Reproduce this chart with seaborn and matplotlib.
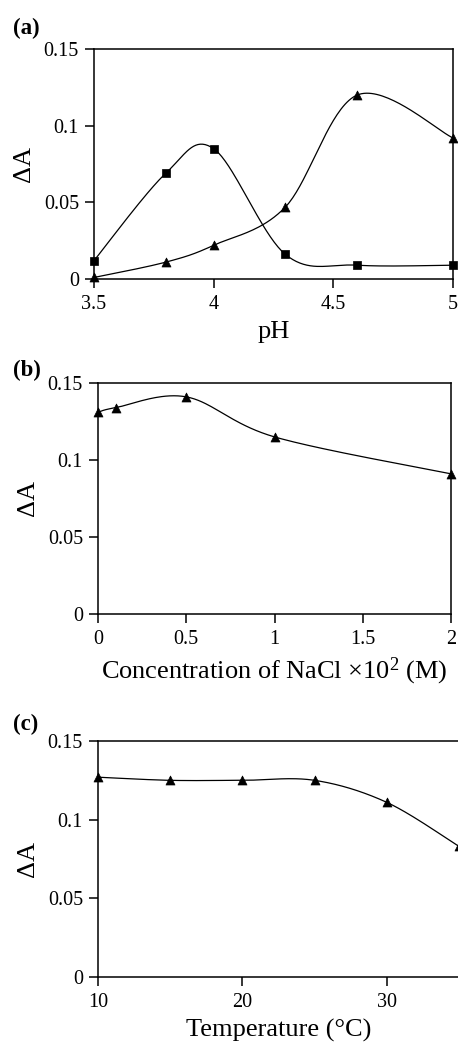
import numpy as np
import pandas as pd
import seaborn as sns
import matplotlib
matplotlib.use("Agg")
import matplotlib.pyplot as plt

# ---------------- data ----------------
ph = [3.5, 3.8, 4.0, 4.3, 4.6, 5.0]
da_square = [0.012, 0.069, 0.085, 0.016, 0.009, 0.009]
da_triangle = [0.001, 0.011, 0.022, 0.047, 0.120, 0.092]

nacl = [0.0, 0.1, 0.5, 1.0, 2.0]
da_nacl = [0.131, 0.134, 0.141, 0.115, 0.091]

temp = [10, 15, 20, 25, 30, 35]
da_temp = [0.127, 0.125, 0.125, 0.125, 0.111, 0.083]

yticks = [0, 0.05, 0.1, 0.15]
yticklabels = ["0", "0.05", "0.1", "0.15"]
ph_ticks = [3.5, 4, 4.5, 5]
ph_ticklabels = ["3.5", "4", "4.5", "5"]
nacl_ticks = [0, 0.5, 1, 1.5, 2]
nacl_ticklabels = ["0", "0.5", "1", "1.5", "2"]
temp_ticks = [10, 20, 30]
temp_ticklabels = ["10", "20", "30"]

# ---------------- style ----------------
sns.set_theme(style="ticks")
plt.rcParams["font.family"] = ["Liberation Serif", "DejaVu Serif"]
plt.rcParams["mathtext.fontset"] = "custom"
plt.rcParams["mathtext.rm"] = "Liberation Serif"
plt.rcParams["mathtext.it"] = "Liberation Serif:italic"

W, H = 458, 1046
fig = plt.figure(figsize=(W / 100, H / 100), dpi=100)


def smooth(x, y, ax_w, ax_h, xr, yr, n=40):
    """Excel-like smoothed line (Catmull-Rom Bezier) in screen-scaled coords."""
    sx = ax_w / (xr[1] - xr[0])
    sy = ax_h / (yr[1] - yr[0])
    P = np.column_stack([np.asarray(x, float) * sx, np.asarray(y, float) * sy])
    m = len(P)
    out = []
    t = np.linspace(0, 1, n)[:, None]
    for i in range(m - 1):
        p0 = P[i - 1] if i > 0 else P[i]
        p1, p2 = P[i], P[i + 1]
        p3 = P[i + 2] if i + 2 < m else P[i + 1]
        c1 = p1 + (p2 - p0) / 6.0
        c2 = p2 - (p3 - p1) / 6.0
        seg = (1 - t) ** 3 * p1 + 3 * (1 - t) ** 2 * t * c1 + 3 * (1 - t) * t ** 2 * c2 + t ** 3 * p2
        out.append(seg if i == 0 else seg[1:])
    pts = np.vstack(out)
    return pts[:, 0] / sx, pts[:, 1] / sy


def make_axes(l, t, r, b):
    return fig.add_axes([l / W, 1 - b / H, (r - l) / W, (b - t) / H])


def style_axes(ax, xlim, xticks, xticklabels, xlabel):
    ax.set_xlim(*xlim)
    ax.set_ylim(0, 0.15)
    ax.set_xticks(xticks)
    ax.set_xticklabels(xticklabels)
    ax.set_yticks(yticks)
    ax.set_yticklabels(yticklabels)
    for s in ax.spines.values():
        s.set_visible(True)
        s.set_linewidth(1.1)
        s.set_color("black")
    ax.tick_params(axis="both", which="major", direction="out", length=6.8,
                   width=1.1, color="black", labelsize=14.5, labelcolor="black")
    ax.tick_params(axis="y", pad=4)
    ax.tick_params(axis="x", pad=4.5)
    ax.set_xlabel(xlabel, fontsize=19, color="black", labelpad=5)
    ax.set_ylabel("ΔA", fontsize=19, color="black", labelpad=6)
    ax.set_facecolor("white")
    ax.grid(False)


def draw_series(ax, x, y, marker, ms, box, xr):
    l, t, r, b = box
    xs, ys = smooth(x, y, r - l, b - t, xr, (0, 0.15))
    sns.lineplot(x=xs, y=ys, ax=ax, color="black", linewidth=0.9,
                 sort=False, estimator=None, legend=False)
    sns.scatterplot(x=x, y=y, ax=ax, marker=marker, s=ms, color="black",
                    edgecolor="black", linewidth=0.5, legend=False, zorder=5,
                    clip_on=False)


# panel (a)
box_a = (94, 49, 453, 279)
ax_a = make_axes(*box_a)
draw_series(ax_a, ph, da_square, "s", 34, box_a, (3.5, 5))
draw_series(ax_a, ph, da_triangle, "^", 42, box_a, (3.5, 5))
style_axes(ax_a, (3.5, 5), ph_ticks, ph_ticklabels, "pH")

# panel (b)
box_b = (98, 383, 451, 614)
ax_b = make_axes(*box_b)
draw_series(ax_b, nacl, da_nacl, "^", 42, box_b, (0, 2))
style_axes(ax_b, (0, 2), nacl_ticks, nacl_ticklabels,
           "Concentration of NaCl ×10$^{2}$ (M)")

# panel (c)
box_c = (98, 741, 459, 977)
ax_c = make_axes(*box_c)
draw_series(ax_c, temp, da_temp, "^", 42, box_c, (10, 35))
style_axes(ax_c, (10, 35), temp_ticks, temp_ticklabels, "Temperature (°C)")

# panel letters
for lab, yc in [("(a)", 28), ("(b)", 370), ("(c)", 724)]:
    fig.text(13 / W, 1 - yc / H, lab, fontsize=16.5, fontweight="bold",
             ha="left", va="center", color="black")

fig.savefig("out.png", dpi=100, facecolor="white")
